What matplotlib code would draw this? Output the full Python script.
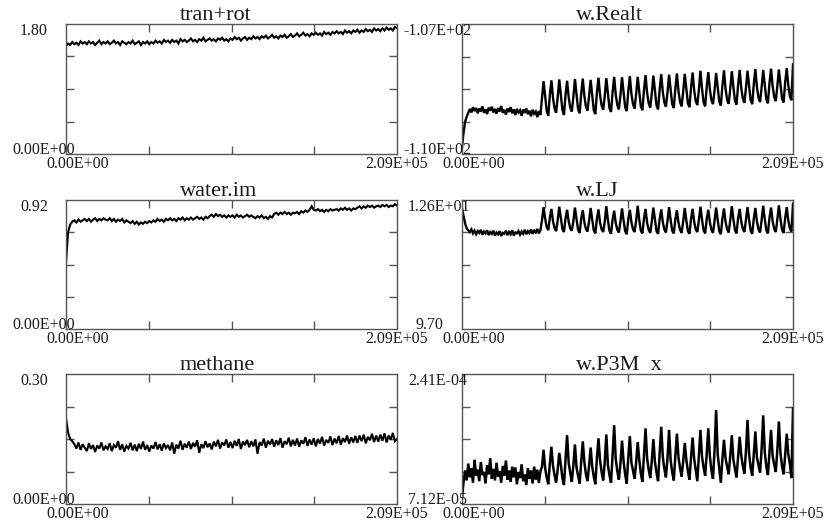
import numpy as np
import matplotlib
matplotlib.use("Agg")
import matplotlib.pyplot as plt

plt.rcParams["font.family"] = ["Liberation Serif", "DejaVu Serif"]

# ---------------- data ----------------
x_max = 2.09e5
titles = ["tran+rot", "w.Realt", "water.im", "w.LJ", "methane", "w.P3M  x"]
y_ranges = [(0.0, 1.80), (-110.0, -107.0), (0.0, 0.92),
            (9.70, 12.6), (0.0, 0.30), (7.12e-5, 2.41e-4)]
ymax_labels = ["1.80", "-1.07E+02", "0.92", "1.26E+01", "0.30", "2.41E-04"]
ymin_labels = ["0.00E+00", "-1.10E+02", "0.00E+00", "9.70", "0.00E+00", "7.12E-05"]
x_labels = ["0.00E+00", "2.09E+05"]

tran_rot = [
    1.50, 1.53, 1.51, 1.55, 1.52, 1.54, 1.51, 1.56, 1.53, 1.55,
    1.52, 1.56, 1.53, 1.55, 1.51, 1.54, 1.57, 1.52, 1.55, 1.53,
    1.56, 1.52, 1.54, 1.57, 1.53, 1.55, 1.51, 1.56, 1.54, 1.52,
    1.55, 1.53, 1.57, 1.52, 1.54, 1.56, 1.51, 1.55, 1.53, 1.56,
    1.52, 1.55, 1.53, 1.57, 1.54, 1.56, 1.53, 1.58, 1.55, 1.57,
    1.54, 1.58, 1.55, 1.57, 1.53, 1.59, 1.56, 1.58, 1.55, 1.57,
    1.60, 1.56, 1.58, 1.55, 1.59, 1.57, 1.61, 1.56, 1.58, 1.60,
    1.57, 1.59, 1.56, 1.60, 1.58, 1.61, 1.57, 1.59, 1.56, 1.60,
    1.58, 1.62, 1.59, 1.61, 1.57, 1.60, 1.62, 1.58, 1.61, 1.59,
    1.63, 1.60, 1.62, 1.59, 1.63, 1.61, 1.64, 1.60, 1.62, 1.65,
    1.61, 1.63, 1.60, 1.64, 1.62, 1.65, 1.61, 1.63, 1.66, 1.62,
    1.64, 1.67, 1.63, 1.65, 1.68, 1.64, 1.66, 1.63, 1.67, 1.65,
    1.68, 1.65, 1.67, 1.64, 1.69, 1.66, 1.68, 1.65, 1.69, 1.67,
    1.70, 1.67, 1.69, 1.66, 1.71, 1.68, 1.70, 1.67, 1.71, 1.69,
    1.72, 1.68, 1.71, 1.69, 1.73, 1.70, 1.72, 1.69, 1.74, 1.71,
    1.73, 1.70, 1.74, 1.71, 1.75, 1.72, 1.74, 1.71, 1.76, 1.74,
]

water_im = [
    0.47, 0.69, 0.745, 0.765, 0.775, 0.76, 0.78, 0.765, 0.775, 0.785,
    0.77, 0.785, 0.765, 0.78, 0.79, 0.77, 0.785, 0.775, 0.79, 0.78,
    0.775, 0.79, 0.77, 0.785, 0.765, 0.78, 0.77, 0.785, 0.76, 0.775,
    0.765, 0.755, 0.77, 0.75, 0.765, 0.745, 0.76, 0.75, 0.765, 0.755,
    0.77, 0.76, 0.775, 0.765, 0.785, 0.77, 0.78, 0.765, 0.785, 0.775,
    0.79, 0.775, 0.785, 0.77, 0.79, 0.78, 0.795, 0.775, 0.79, 0.78,
    0.795, 0.78, 0.79, 0.80, 0.785, 0.795, 0.78, 0.80, 0.79, 0.805,
    0.815, 0.80, 0.82, 0.805, 0.815, 0.80, 0.81, 0.795, 0.81, 0.80,
    0.81, 0.795, 0.815, 0.80, 0.81, 0.795, 0.805, 0.815, 0.80, 0.81,
    0.80, 0.79, 0.805, 0.795, 0.81, 0.79, 0.80, 0.785, 0.805, 0.795,
    0.82, 0.83, 0.815, 0.83, 0.82, 0.835, 0.82, 0.83, 0.815, 0.83,
    0.825, 0.835, 0.82, 0.84, 0.83, 0.845, 0.835, 0.85, 0.875, 0.85,
    0.845, 0.855, 0.84, 0.85, 0.835, 0.85, 0.84, 0.855, 0.845, 0.85,
    0.855, 0.845, 0.86, 0.85, 0.865, 0.85, 0.86, 0.845, 0.86, 0.855,
    0.865, 0.875, 0.86, 0.875, 0.865, 0.88, 0.87, 0.88, 0.865, 0.875,
    0.88, 0.87, 0.885, 0.875, 0.885, 0.87, 0.88, 0.875, 0.89, 0.88,
]

methane = [
    0.198, 0.165, 0.150, 0.145, 0.138, 0.128, 0.142, 0.125, 0.138, 0.130,
    0.122, 0.140, 0.127, 0.136, 0.120, 0.135, 0.128, 0.142, 0.124, 0.133,
    0.127, 0.140, 0.122, 0.136, 0.130, 0.145, 0.125, 0.138, 0.121, 0.134,
    0.128, 0.141, 0.124, 0.137, 0.122, 0.139, 0.127, 0.144, 0.125, 0.136,
    0.121, 0.135, 0.128, 0.143, 0.126, 0.138, 0.123, 0.140, 0.129, 0.136,
    0.124, 0.142, 0.116, 0.137, 0.128, 0.146, 0.125, 0.139, 0.130, 0.144,
    0.127, 0.141, 0.132, 0.147, 0.118, 0.138, 0.129, 0.145, 0.131, 0.140,
    0.126, 0.144, 0.133, 0.148, 0.128, 0.142, 0.135, 0.149, 0.130, 0.143,
    0.129, 0.146, 0.134, 0.150, 0.127, 0.144, 0.136, 0.148, 0.131, 0.145,
    0.133, 0.149, 0.116, 0.143, 0.135, 0.151, 0.130, 0.146, 0.137, 0.150,
    0.132, 0.147, 0.136, 0.152, 0.130, 0.145, 0.138, 0.153, 0.133, 0.148,
    0.135, 0.151, 0.132, 0.147, 0.139, 0.154, 0.134, 0.149, 0.137, 0.152,
    0.133, 0.150, 0.139, 0.155, 0.135, 0.148, 0.141, 0.156, 0.136, 0.151,
    0.140, 0.157, 0.137, 0.152, 0.143, 0.158, 0.139, 0.154, 0.142, 0.157,
    0.141, 0.158, 0.145, 0.160, 0.140, 0.155, 0.147, 0.162, 0.143, 0.158,
    0.144, 0.160, 0.146, 0.163, 0.142, 0.158, 0.148, 0.164, 0.145, 0.150,
]

w_realt = [
    -109.84, -109.50, -109.25, -109.14, -109.05, -108.96, -109.04, -108.92, -109.01, -108.94,
    -109.06, -108.95, -109.02, -108.90, -109.05, -108.97, -109.08, -108.93, -109.00, -108.91,
    -109.04, -108.96, -109.07, -108.94, -109.02, -108.89, -109.05, -108.98, -109.09, -108.95,
    -109.03, -108.92, -109.06, -108.97, -109.10, -108.96, -109.04, -108.99, -109.12, -108.97,
    -109.05, -108.95, -109.08, -109.00, -109.13, -108.98, -109.07, -109.02, -109.15, -109.01,
    -109.10,
    -108.70, -108.32, -108.66, -109.00, -109.12,
    -108.64, -108.30, -108.70, -108.95, -109.05,
    -108.69, -108.28, -108.62, -108.98, -109.10,
    -108.63, -108.31, -108.69, -108.93, -109.02,
    -108.68, -108.27, -108.61, -108.97, -109.06,
    -108.60, -108.26, -108.66, -108.91, -109.00,
    -108.67, -108.29, -108.63, -108.99, -109.08,
    -108.58, -108.24, -108.64, -108.88, -108.98,
    -108.66, -108.25, -108.59, -108.94, -109.03,
    -108.57, -108.22, -108.63, -108.87, -108.97,
    -108.64, -108.23, -108.58, -108.92, -109.01,
    -108.55, -108.20, -108.61, -108.85, -108.95,
    -108.62, -108.22, -108.56, -108.90, -108.99,
    -108.53, -108.18, -108.59, -108.83, -108.93,
    -108.60, -108.19, -108.54, -108.88, -108.97,
    -108.51, -108.16, -108.57, -108.81, -108.91,
    -108.58, -108.17, -108.52, -108.85, -108.94,
    -108.49, -108.14, -108.55, -108.80, -108.90,
    -108.56, -108.15, -108.50, -108.83, -108.92,
    -108.47, -108.12, -108.53, -108.78, -108.87,
    -108.52, -108.08, -108.49, -108.81, -108.90,
    -108.45, -108.11, -108.51, -108.76, -108.85,
    -108.53, -108.13, -108.47, -108.79, -108.88,
    -108.43, -108.07, -108.49, -108.75, -108.84,
    -108.50, -108.09, -108.45, -108.77, -108.86,
    -108.41, -108.06, -108.47, -108.72, -108.82,
    -108.48, -108.08, -108.43, -108.76, -108.85,
    -108.39, -108.04, -108.45, -108.70, -108.80,
    -108.46, -108.06, -108.41, -108.74, -108.83,
    -108.37, -108.03, -108.43, -108.68, -108.78,
    -108.44, -108.05, -108.39, -108.72, -108.81,
    -108.35, -108.02, -108.41, -108.66, -108.76,
    -107.93,
]

w_lj = [
    12.41, 12.24, 12.07, 11.96, 11.92, 11.88, 11.94, 11.85, 11.91, 11.83,
    11.90, 11.86, 11.93, 11.82, 11.89, 11.85, 11.92, 11.81, 11.88, 11.84,
    11.91, 11.80, 11.87, 11.83, 11.90, 11.79, 11.86, 11.84, 11.91, 11.81,
    11.88, 11.83, 11.92, 11.80, 11.87, 11.85, 11.90, 11.82, 11.89, 11.84,
    11.93, 11.83, 11.90, 11.86, 11.94, 11.84, 11.91, 11.87, 11.95, 11.85,
    11.92,
    12.15, 12.44, 12.18, 11.99, 11.92,
    12.20, 12.40, 12.12, 11.97, 11.90,
    12.14, 12.45, 12.20, 11.95, 11.88,
    12.19, 12.38, 12.11, 11.96, 11.91,
    12.13, 12.43, 12.17, 11.93, 11.86,
    12.18, 12.37, 12.10, 11.95, 11.89,
    12.12, 12.42, 12.16, 11.92, 11.85,
    12.17, 12.39, 12.09, 11.94, 11.88,
    12.11, 12.46, 12.15, 11.91, 11.84,
    12.16, 12.36, 12.08, 11.93, 11.87,
    12.12, 12.41, 12.14, 11.90, 11.83,
    12.17, 12.38, 12.10, 11.94, 11.88,
    12.13, 12.47, 12.15, 11.91, 11.85,
    12.18, 12.40, 12.09, 11.93, 11.86,
    12.12, 12.43, 12.16, 11.90, 11.84,
    12.17, 12.39, 12.10, 11.94, 11.87,
    12.13, 12.44, 12.15, 11.91, 11.85,
    12.16, 12.37, 12.09, 11.93, 11.86,
    12.12, 12.42, 12.14, 11.90, 11.84,
    12.18, 12.40, 12.11, 11.94, 11.88,
    12.14, 12.45, 12.16, 11.92, 11.85,
    12.17, 12.38, 12.10, 11.93, 11.86,
    12.13, 12.43, 12.15, 11.90, 11.83,
    12.18, 12.41, 12.11, 11.94, 11.87,
    12.14, 12.46, 12.17, 11.92, 11.85,
    12.19, 12.40, 12.12, 11.95, 11.88,
    12.15, 12.44, 12.16, 11.91, 11.84,
    12.18, 12.42, 12.12, 11.94, 11.87,
    12.15, 12.47, 12.17, 11.92, 11.85,
    12.20, 12.43, 12.13, 11.95, 11.88,
    12.16, 12.48, 12.18, 11.93, 11.86,
    12.19, 12.44, 12.14, 11.96, 11.89,
    12.52,
]

# w.P3M values in units of 1e-5
w_p3m_e5 = [
    7.9, 10.0, 11.5, 10.2, 12.4, 10.6, 11.8, 9.9, 12.9, 10.8,
    11.6, 10.1, 12.6, 10.9, 11.3, 9.8, 12.2, 11.0, 13.1, 10.4,
    11.7, 10.2, 12.5, 10.7, 11.4, 9.9, 12.1, 10.8, 12.8, 10.3,
    11.5, 10.0, 12.0, 10.6, 11.9, 9.7, 11.3, 10.5, 12.3, 10.1,
    11.0, 9.6, 11.8, 10.4, 11.5, 9.8, 12.0, 10.3, 11.6, 9.9,
    11.4,
    12.0, 14.2, 11.8, 10.6, 9.7,
    12.4, 14.6, 12.1, 10.9, 9.9,
    11.6, 13.8, 12.3, 10.5, 9.6,
    13.0, 16.1, 12.5, 11.2, 10.0,
    12.2, 14.9, 11.9, 10.8, 9.8,
    12.7, 15.3, 12.6, 11.0, 10.1,
    12.1, 14.5, 12.0, 10.7, 9.7,
    13.1, 15.7, 12.8, 11.3, 10.2,
    12.6, 16.2, 12.2, 10.9, 9.9,
    13.5, 17.4, 13.0, 11.4, 10.3,
    12.4, 15.4, 12.7, 11.0, 9.8,
    13.2, 16.0, 12.5, 11.5, 10.4,
    12.5, 15.2, 12.9, 11.1, 10.0,
    13.6, 17.0, 13.1, 11.6, 10.5,
    12.8, 15.6, 12.6, 11.2, 10.1,
    13.8, 17.2, 13.3, 11.7, 10.6,
    13.1, 16.8, 12.8, 11.3, 10.2,
    13.4, 16.3, 13.2, 11.8, 10.7,
    12.7, 15.1, 12.9, 11.4, 10.3,
    13.2, 15.8, 13.0, 11.6, 10.1,
    13.5, 16.8, 13.3, 11.9, 10.8,
    13.7, 17.0, 13.4, 11.5, 10.4,
    14.2, 19.4, 13.6, 11.8, 9.9,
    13.0, 15.5, 13.1, 12.0, 11.0,
    13.4, 16.1, 12.9, 11.7, 10.6,
    13.2, 15.9, 13.5, 12.1, 11.1,
    14.0, 18.1, 13.7, 11.9, 10.8,
    13.6, 16.6, 13.2, 12.2, 11.2,
    14.3, 18.7, 13.9, 12.0, 10.9,
    13.8, 16.8, 13.4, 12.3, 11.3,
    14.1, 17.9, 13.8, 12.1, 11.0,
    13.5, 16.3, 13.6, 12.4, 10.5,
    19.6,
]
w_p3m = [v * 1e-5 for v in w_p3m_e5]

series = [tran_rot, w_realt, water_im, w_lj, methane, w_p3m]
line_widths = [1.5, 1.7, 1.5, 1.7, 1.5, 1.8]

# ---------------- layout ----------------
W, H = 827, 529
col_x = [(66, 397), (462, 793)]
row_y = [(24, 154), (200, 329), (374, 504)]
frame_color = "#555555"
text_color = "#1a1a1a"
title_fs = 16
label_fs = 11.5

fig = plt.figure(figsize=(W / 100, H / 100), dpi=100)
fig.patch.set_facecolor("white")


def ftext(x, y, s, **kw):
    fig.text(x / W, 1 - y / H, s, color=text_color, **kw)


def ylab_offset(lbl):
    if lbl.startswith("-"):
        return -59
    if "E" in lbl:
        return -54
    return -46


for i, (title, data) in enumerate(zip(titles, series)):
    r, c = divmod(i, 2)
    x0, x1 = col_x[c]
    t, b = row_y[r]
    ax = fig.add_axes([x0 / W, 1 - b / H, (x1 - x0) / W, (b - t) / H])
    xs = np.linspace(0, x_max, len(data))
    ax.plot(xs, data, color="black", lw=line_widths[i], solid_joinstyle="miter")
    ymin, ymax = y_ranges[i]
    ax.set_xlim(0, x_max)
    ax.set_ylim(ymin, ymax)
    ax.set_xticks([x_max * q for q in (0.25, 0.5, 0.75)])
    ax.set_yticks([ymin + (ymax - ymin) * q for q in (0.25, 0.5, 0.75)])
    ax.tick_params(direction="in", length=6, width=1.0, color=frame_color,
                   top=True, right=True, bottom=True, left=True,
                   labelbottom=False, labelleft=False)
    for sp in ax.spines.values():
        sp.set_color(frame_color)
        sp.set_linewidth(1.0)

    ftext(x0 + 114, t - 4, title, ha="left", va="baseline", fontsize=title_fs)
    ftext(x0 + ylab_offset(ymax_labels[i]), t + 11, ymax_labels[i],
          ha="left", va="baseline", fontsize=label_fs)
    ftext(x0 + ylab_offset(ymin_labels[i]), b, ymin_labels[i],
          ha="left", va="baseline", fontsize=label_fs)
    ftext(x0 - 20, b + 14, x_labels[0], ha="left", va="baseline", fontsize=label_fs)
    ftext(x1 - 32, b + 14, x_labels[1], ha="left", va="baseline", fontsize=label_fs)

fig.savefig("out.png", dpi=100)
